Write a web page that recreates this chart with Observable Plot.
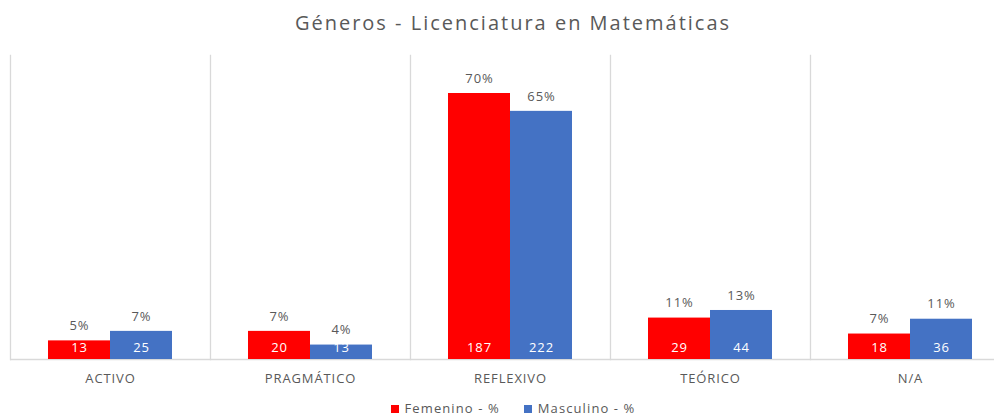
<!DOCTYPE html>
<html><head><meta charset="utf-8">
<script src="https://cdn.jsdelivr.net/npm/d3@7"></script>
<script src="https://cdn.jsdelivr.net/npm/@observablehq/plot@0.6"></script>
<style>
body{margin:0;background:#fff;}
#wrap{width:994px;height:417px;overflow:hidden;position:relative;background:#fff;}
#inner{width:1026px;}
#title{height:45px;line-height:45px;text-align:center;font-family:"Open Sans",sans-serif;font-size:20px;letter-spacing:2px;color:#595959;}
#legend{display:flex;justify-content:center;gap:24px;padding-top:6px;font-family:"Open Sans",sans-serif;font-size:13px;letter-spacing:1.1px;color:#595959;line-height:15px;}
#legend span.sw{display:inline-block;width:8px;height:8px;margin-right:6px;vertical-align:0px;}
#chart svg{overflow:visible;display:block;}
</style></head>
<body>
<div id="wrap"><div id="inner">
<div id="title">Géneros - Licenciatura en Matemáticas</div>
<div id="chart"></div>
<div id="legend"></div>
</div></div>
<script>
const categories = ["ACTIVO", "PRAGMÁTICO", "REFLEXIVO", "TEÓRICO", "N/A"];
const series = ["Femenino - %", "Masculino - %"];
const femeninoPct = [4.9, 7.4, 70.0, 10.9, 6.7];
const masculinoPct = [7.4, 3.8, 65.3, 12.9, 10.6];
const femeninoN = [13, 20, 187, 29, 18];
const masculinoN = [25, 13, 222, 44, 36];
const colors = ["#FF0000", "#4472C4"];

const rows = categories.flatMap((c, i) => [
  {cat: c, serie: series[0], pct: femeninoPct[i], n: femeninoN[i]},
  {cat: c, serie: series[1], pct: masculinoPct[i], n: masculinoN[i]}
]);

const chart = Plot.plot({
  width: 1026, height: 350,
  marginTop: 10, marginBottom: 36, marginLeft: 10, marginRight: 16,
  style: {fontFamily: "'Open Sans', sans-serif", fontSize: "13px", color: "#595959", background: "transparent", letterSpacing: "0.9px"},
  fx: {domain: categories, padding: 0, label: null, axis: "bottom", tickSize: 0, tickPadding: 14},
  x: {domain: series, axis: null, paddingInner: 0, paddingOuter: 0.6},
  y: {domain: [0, 80], axis: null},
  color: {domain: series, range: colors},
  marks: [
    Plot.frame({anchor: "left", stroke: "#d9d9d9", strokeWidth: 1.3}),
    Plot.ruleY([0], {stroke: "#d9d9d9", strokeWidth: 1.5}),
    Plot.barY(rows, {fx: "cat", x: "serie", y: "pct", fill: "serie"}),
    Plot.text(rows, {fx: "cat", x: "serie", y: "pct", text: d => Math.round(d.pct) + "%", dy: -15, fill: "#595959"}),
    Plot.text(rows, {fx: "cat", x: "serie", y: 0, text: d => String(d.n), dy: -12, fill: "white"})
  ]
});
document.getElementById("chart").appendChild(chart);

const lg = document.getElementById("legend");
series.forEach((s, i) => {
  const item = document.createElement("div");
  item.innerHTML = `<span class="sw" style="background:${colors[i]}"></span>${s}`;
  lg.appendChild(item);
});
</script>
</body></html>
